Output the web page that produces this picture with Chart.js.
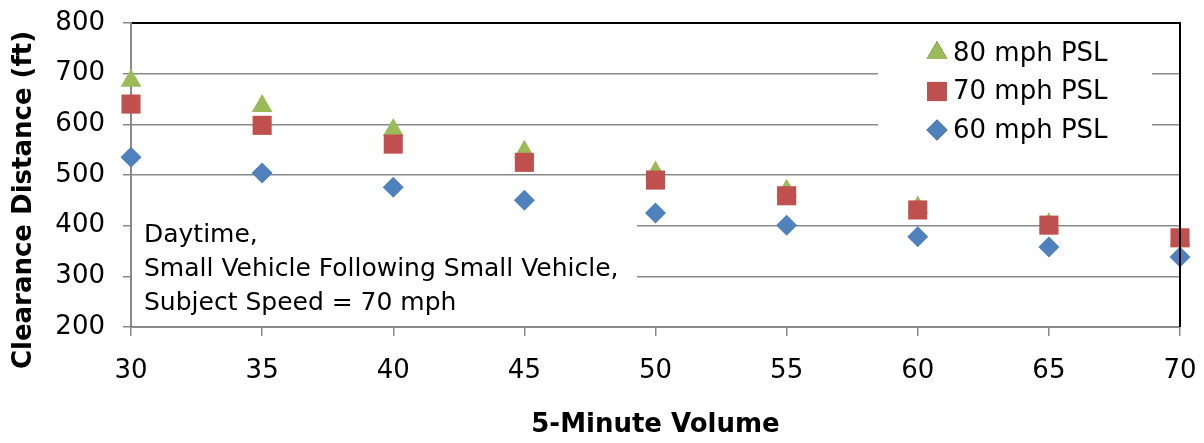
<!DOCTYPE html>
<html>
<head>
<meta charset="utf-8">
<script src="https://cdn.jsdelivr.net/npm/chart.js@4/dist/chart.umd.min.js"></script>
<style>
  html, body { margin: 0; padding: 0; background: #fff; }
  #wrap { width: 1204px; height: 443px; }
</style>
</head>
<body>
<div id="wrap"><canvas id="clearanceChart"></canvas></div>
<script>
const volumes = [30, 35, 40, 45, 50, 55, 60, 65, 70];
const psl80 = [686, 636, 589, 546, 505, 469, 436, 403, 372];
const psl70 = [640, 598, 561, 525, 490, 459, 431, 401, 376];
const psl60 = [535, 504, 476, 450, 425, 401, 378, 358, 338];
const seriesLabels = ["60 mph PSL", "70 mph PSL", "80 mph PSL"];
const noteLines = ["Daytime,", "Small Vehicle Following Small Vehicle,", "Subject Speed = 70 mph"];
const yTitle = "Clearance Distance (ft)";

const gridGray = "#898989";
const toPoints = ys => volumes.map((x, i) => ({ x: x, y: ys[i] }));

// white boxes behind the note and the legend, like the Excel text boxes
const boxesPlugin = {
    id: "boxes",
    beforeDatasetsDraw(chart) {
        const { ctx, chartArea: a } = chart;
        ctx.save();
        ctx.fillStyle = "#fff";
        ctx.fillRect(a.left + 1, 195, 505, a.bottom - 196);
        ctx.fillRect(a.right - 302, a.top + 1, 274, 127);
        ctx.restore();
    },
    afterDatasetsDraw(chart) {
        const { ctx, chartArea: a } = chart;
        ctx.save();
        ctx.fillStyle = "#000";
        ctx.font = "25px 'DejaVu Sans'";
        ctx.textBaseline = "alphabetic";
        noteLines.forEach((t, i) => ctx.fillText(t, a.left + 13, 242 + i * 34));

        // legend, top to bottom: 80, 70, 60
        ctx.font = "26px 'DejaVu Sans'";
        ctx.textBaseline = "middle";
        const order = [2, 1, 0];
        order.forEach((di, row) => {
            const ds = chart.data.datasets[di];
            const y = a.top + 30 + row * 38.5;
            const x = a.right - 243;
            Chart.helpers.drawPoint(ctx, {
                pointStyle: ds.pointStyle,
                radius: ds.pointRadius,
                borderWidth: 0
            }, x, y);
            ctx.fillStyle = ds.backgroundColor;
            ctx.fill();
            ctx.fillStyle = "#000";
            ctx.fillText(ds.label, x + 16, y + 1);
        });

        // y axis title sits lower than the plot centre in the original
        ctx.translate(24, 200);
        ctx.rotate(-Math.PI / 2);
        ctx.font = "bold 26px 'DejaVu Sans'";
        ctx.textAlign = "center";
        ctx.textBaseline = "middle";
        ctx.fillText(yTitle, 0, 0);
        ctx.restore();
    },
    afterDraw(chart) {
        const { ctx, chartArea: a } = chart;
        ctx.save();
        ctx.strokeStyle = "#000";
        ctx.lineWidth = 2;
        ctx.beginPath();
        ctx.moveTo(a.left + 1, a.top);
        ctx.lineTo(a.right, a.top);
        ctx.lineTo(a.right, a.bottom);
        ctx.stroke();
        ctx.restore();
    }
};

Chart.defaults.font.family = "'DejaVu Sans'";
Chart.defaults.color = "#000";

new Chart(document.getElementById("clearanceChart"), {
    type: "scatter",
    data: {
        datasets: [
            { label: seriesLabels[0], data: toPoints(psl60), pointStyle: "rectRot", pointRadius: 10.5,
              backgroundColor: "#4F81BD", borderWidth: 0, clip: false },
            { label: seriesLabels[1], data: toPoints(psl70), pointStyle: "rect", pointRadius: 13.5,
              backgroundColor: "#C0504D", borderWidth: 0, clip: false },
            { label: seriesLabels[2], data: toPoints(psl80), pointStyle: "triangle", pointRadius: 12,
              backgroundColor: "#9BBB59", borderWidth: 0, clip: false }
        ]
    },
    options: {
        responsive: true,
        maintainAspectRatio: false,
        animation: false,
        layout: { padding: { left: 0, right: 24, top: 23, bottom: 0 } },
        plugins: {
            legend: { display: false },
            tooltip: { enabled: false }
        },
        elements: { point: { hoverRadius: 0 } },
        scales: {
            x: {
                type: "linear",
                min: 30, max: 70,
                ticks: { stepSize: 5, padding: 20, font: { size: 26 } },
                grid: { drawOnChartArea: false, drawTicks: true, tickLength: 9, color: gridGray, lineWidth: 1.5 },
                border: { color: gridGray, width: 2 },
                title: { display: true, text: "5-Minute Volume", font: { size: 26, weight: "bold" },
                         padding: { top: 0, bottom: 2 } },
                afterFit: s => { s.height = 116; s.paddingLeft = 0; s.paddingRight = 0; }
            },
            y: {
                min: 200, max: 800,
                ticks: { stepSize: 100, padding: 18, font: { size: 26 } },
                grid: { drawTicks: true, tickLength: 8, color: gridGray, lineWidth: 1.5 },
                border: { color: gridGray, width: 2 },
                afterFit: s => { s.width = 131; s.paddingTop = 0; s.paddingBottom = 0; }
            }
        }
    },
    plugins: [boxesPlugin]
});
</script>
</body>
</html>
